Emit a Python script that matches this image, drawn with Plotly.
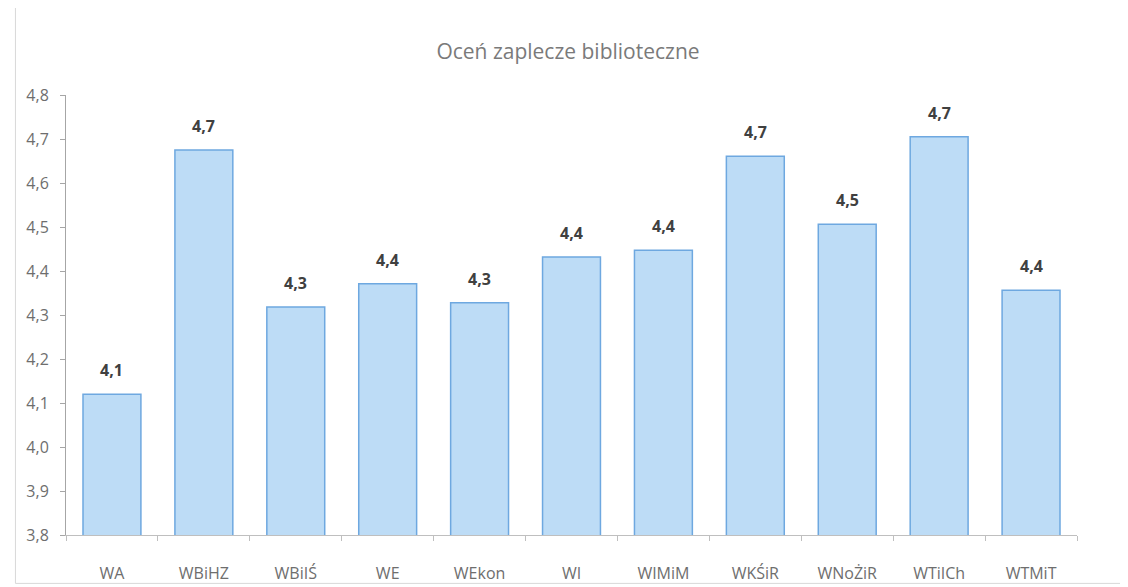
import plotly.graph_objects as go

categories = ["WA", "WBiHZ", "WBiIŚ", "WE", "WEkon", "WI", "WIMiM", "WKŚiR", "WNoŻiR", "WTiICh", "WTMiT"]
values = [4.12, 4.675, 4.318, 4.371, 4.328, 4.432, 4.447, 4.661, 4.506, 4.705, 4.356]
y_ticks = [3.8, 3.9, 4.0, 4.1, 4.2, 4.3, 4.4, 4.5, 4.6, 4.7, 4.8]
y_tick_labels = ["3,8", "3,9", "4,0", "4,1", "4,2", "4,3", "4,4", "4,5", "4,6", "4,7", "4,8"]
labels = [f"{v:.1f}".replace(".", ",") for v in values]

FONT = "Open Sans, Lato, sans-serif"

fig = go.Figure(go.Bar(
    x=categories, y=values,
    marker=dict(color="#bddcf6", line=dict(color="#6ea8e0", width=1.5)),
    hoverinfo="x+y",
))

for c, v, t in zip(categories, values, labels):
    fig.add_annotation(x=c, y=v, text=f"<b>{t}</b>", showarrow=False, yanchor="bottom",
                       yshift=11, font=dict(family=FONT, size=16, color="#404040"))

fig.update_layout(
    width=1120, height=579,
    paper_bgcolor="white", plot_bgcolor="white",
    margin=dict(l=58, r=51, t=87, b=52, autoexpand=False),
    bargap=0.37,
    showlegend=False,
    title=dict(text="Oceń zaplecze biblioteczne", x=0.5, xanchor="center", y=0.925, yanchor="middle",
               font=dict(family=FONT, size=21, color="#7a7a7a")),
    font=dict(family=FONT),
)
fig.update_yaxes(range=[3.8, 4.8], tickvals=y_ticks, ticktext=y_tick_labels,
                 showgrid=False, zeroline=False, showline=True, linecolor="#a6a6a6", linewidth=1,
                 ticks="outside", ticklen=5, tickcolor="#a6a6a6", ticklabelstandoff=8,
                 automargin=False,
                 tickfont=dict(size=16, color="#6e6e6e"))
fig.update_xaxes(showgrid=False, showline=True, linecolor="#bfbfbf", linewidth=1,
                 ticks="outside", ticklen=5, tickcolor="#bfbfbf", tickson="boundaries",
                 ticklabelstandoff=24, automargin=False,
                 tickfont=dict(size=16, color="#6e6e6e"))
fig.add_shape(type="rect", xref="paper", yref="paper", x0=-0.05, x1=1.045, y0=-0.11, y1=1.2,
              line=dict(color="#d8d8d8", width=1))

fig.write_html("out.html")
